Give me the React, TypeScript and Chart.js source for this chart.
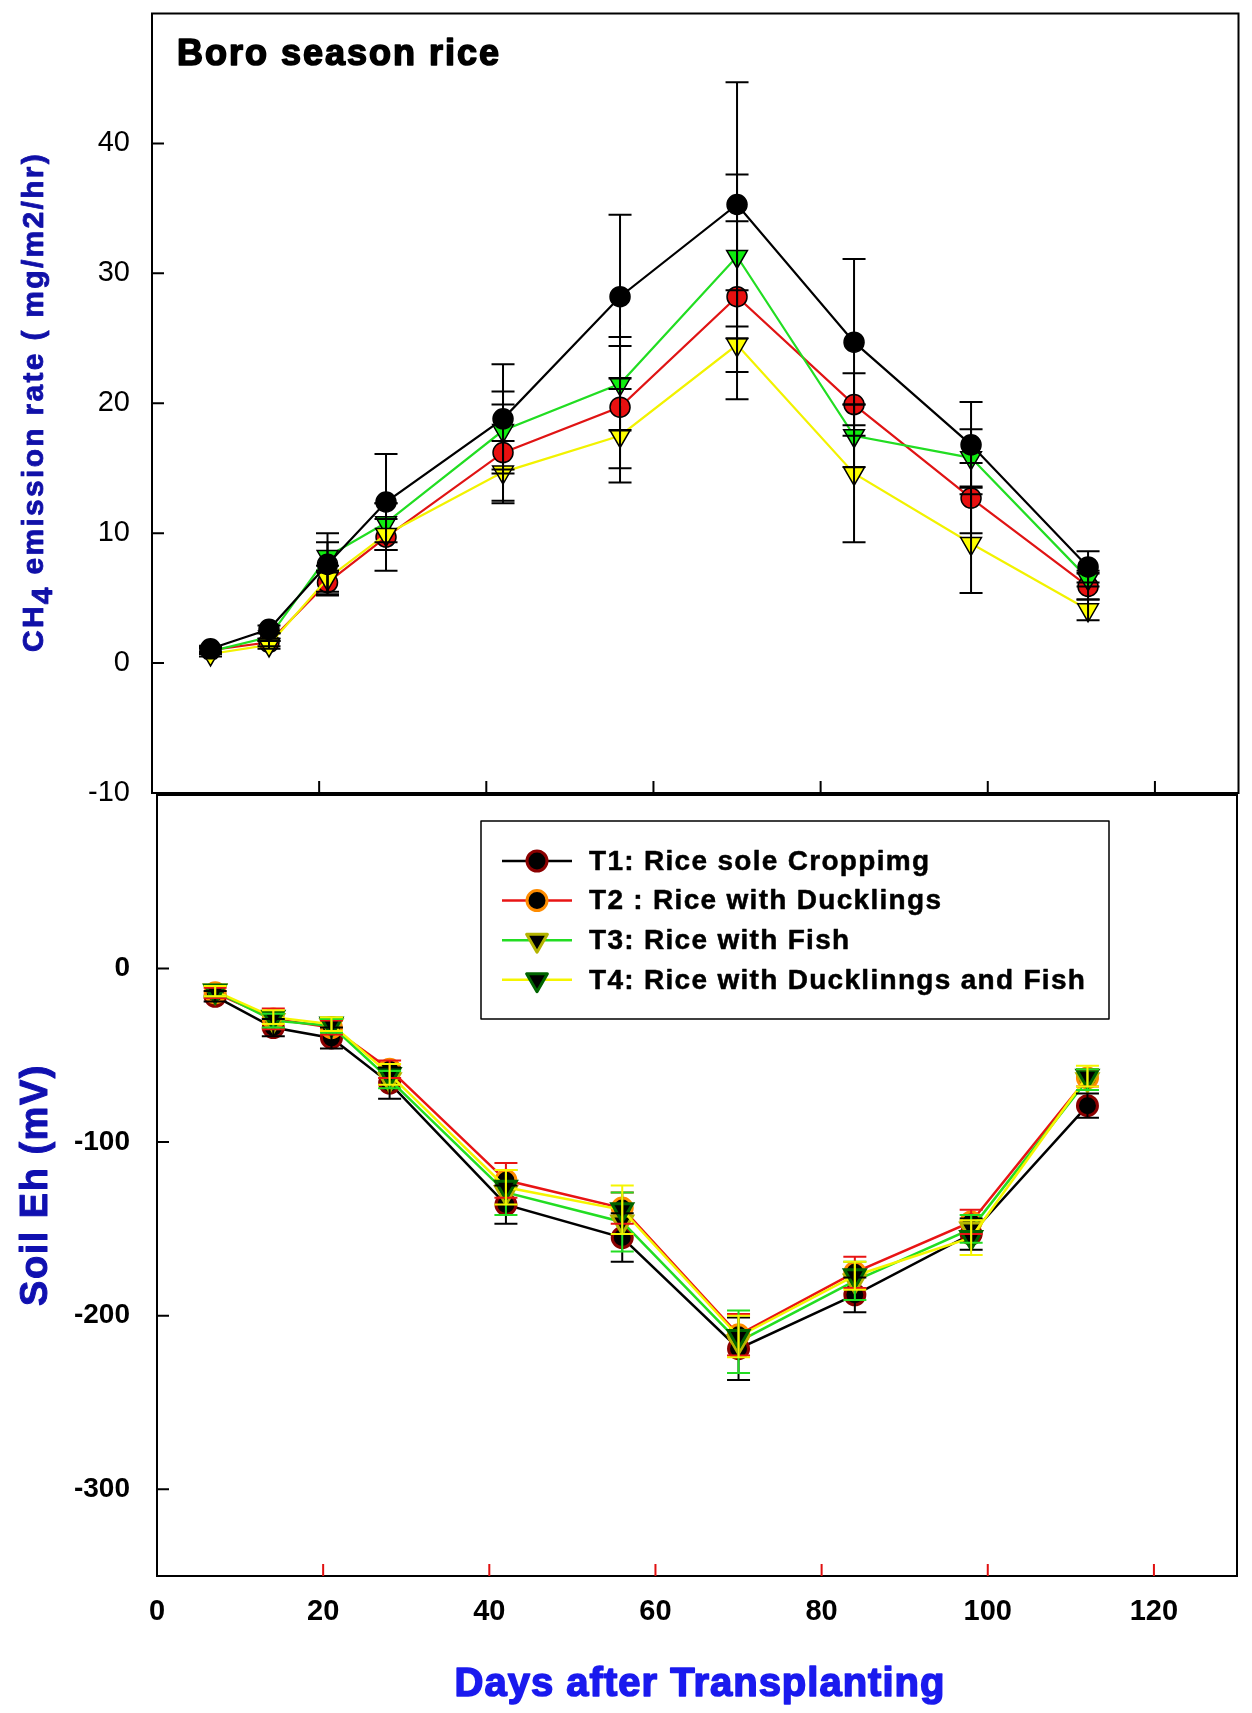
import React, { useEffect, useRef } from 'react';
import { Chart, registerables } from 'chart.js';
import { drawPoint } from 'chart.js/helpers';

Chart.register(...registerables);

const FONT = "'Liberation Sans', Arial, sans-serif";

// sampling days (days after transplanting)
const days = [7, 14, 21, 28, 42, 56, 70, 84, 98, 112];
const xTicks = [0, 20, 40, 60, 80, 100, 120];

// CH4 emission rate (mg/m2/hr), mean and error
const ch4T1 = [1.1, 2.6, 7.6, 12.4, 18.8, 28.2, 35.3, 24.7, 16.8, 7.4];
const ch4T2 = [1.0, 1.6, 6.2, 9.7, 16.2, 19.7, 28.2, 19.9, 12.7, 5.9];
const ch4T3 = [0.9, 2.0, 8.2, 10.8, 17.9, 21.5, 31.3, 17.5, 15.8, 6.5];
const ch4T4 = [0.7, 1.4, 6.5, 9.9, 14.7, 17.5, 24.5, 14.6, 9.2, 4.1];
const ch4ErrT1 = [0.2, 0.3, 2.4, 3.7, 4.2, 6.3, 9.4, 6.4, 3.3, 1.2];
const ch4ErrT2 = [0.2, 0.3, 0.9, 2.6, 3.7, 4.7, 5.8, 2.4, 2.7, 1.0];
const ch4ErrT3 = [0.2, 0.3, 1.1, 1.5, 3.0, 3.6, 6.3, 2.4, 2.2, 0.6];
const ch4ErrT4 = [0.2, 0.3, 1.0, 1.2, 2.4, 3.6, 4.2, 5.3, 3.8, 0.8];
const ch4Ticks = [-10, 0, 10, 20, 30, 40];

// soil Eh (mV), mean and error
const ehT1 = [-16, -34, -40, -66, -136, -155, -219, -188, -153, -79];
const ehT2 = [-14, -29, -34, -58, -122, -138, -211, -175, -146, -63];
const ehT3 = [-13, -30, -33, -64, -129, -146, -215, -180, -150, -64];
const ehT4 = [-13, -28, -32, -61, -126, -139, -212, -177, -155, -62];
const ehErrT1 = [3, 5, 6, 9, 11, 14, 18, 10, 9, 7];
const ehErrT2 = [3, 6, 4, 5, 10, 9, 12, 9, 7, 5];
const ehErrT3 = [3, 4, 4, 5, 13, 17, 18, 11, 8, 6];
const ehErrT4 = [3, 4, 4, 6, 10, 14, 12, 8, 10, 6];
const ehTicks = [-300, -200, -100, 0];

const legendLabels = [
  'T1: Rice sole Croppimg',
  'T2 : Rice with Ducklings',
  'T3: Rice with Fish',
  'T4: Rice with Ducklinngs and Fish',
];

const toPoints = (vals: number[]) => days.map((d, i) => ({ x: d, y: vals[i] }));

// heavier text: fill plus a thin stroke in the same colour
const heavyText = (ctx: CanvasRenderingContext2D, text: string, x: number, y: number, w: number) => {
  ctx.fillText(text, x, y);
  ctx.lineWidth = w;
  ctx.strokeStyle = ctx.fillStyle as string;
  ctx.lineJoin = 'round';
  ctx.strokeText(text, x, y);
};

// frame around the plot + inward tick marks
const makeFrame = (xTickColor: string) => ({
  id: 'frame',
  afterDatasetsDraw(chart: any) {
    const { ctx, chartArea: a } = chart;
    const xs = chart.scales.x;
    const ys = chart.scales.y;
    ctx.save();
    ctx.lineWidth = 2;
    ctx.strokeStyle = '#000';
    ctx.strokeRect(a.left, a.top, a.right - a.left, a.bottom - a.top);
    ctx.beginPath();
    ys.ticks.forEach((t: any) => {
      if (t.value <= ys.min || t.value >= ys.max) return;
      const y = ys.getPixelForValue(t.value);
      ctx.moveTo(a.left, y);
      ctx.lineTo(a.left + 12, y);
    });
    ctx.stroke();
    ctx.strokeStyle = xTickColor;
    ctx.beginPath();
    xs.ticks.forEach((t: any) => {
      if (t.value <= xs.min || t.value >= xs.max) return;
      const x = xs.getPixelForValue(t.value);
      ctx.moveTo(x, a.bottom);
      ctx.lineTo(x, a.bottom - 12);
    });
    ctx.stroke();
    ctx.restore();
  },
});

const errorBars = {
  id: 'errorBars',
  afterDatasetsDraw(chart: any) {
    const { ctx } = chart;
    const xs = chart.scales.x;
    const ys = chart.scales.y;
    chart.data.datasets.forEach((ds: any) => {
      const err: number[] = ds.errors;
      if (!err) return;
      ctx.save();
      ctx.strokeStyle = ds.errorColor;
      ctx.lineWidth = 2;
      ctx.beginPath();
      ds.data.forEach((p: any, i: number) => {
        const x = xs.getPixelForValue(p.x);
        const yTop = ys.getPixelForValue(p.y + err[i]);
        const yBot = ys.getPixelForValue(p.y - err[i]);
        ctx.moveTo(x, yTop);
        ctx.lineTo(x, yBot);
        ctx.moveTo(x - 11.5, yTop);
        ctx.lineTo(x + 11.5, yTop);
        ctx.moveTo(x - 11.5, yBot);
        ctx.lineTo(x + 11.5, yBot);
      });
      ctx.stroke();
      ctx.restore();
    });
  },
};

const topText = {
  id: 'topText',
  afterDraw(chart: any) {
    const { ctx } = chart;
    ctx.save();
    ctx.fillStyle = '#000';
    ctx.font = `bold 36px ${FONT}`;
    ctx.letterSpacing = '2px';
    ctx.textAlign = 'left';
    ctx.textBaseline = 'alphabetic';
    heavyText(ctx, 'Boro season rice', 177, 65, 1.6);

    // rotated y title with subscript
    ctx.translate(43, 402);
    ctx.rotate(-Math.PI / 2);
    ctx.fillStyle = '#1010a8';
    ctx.font = `bold 30px ${FONT}`;
    ctx.letterSpacing = '2.3px';
    const p1 = 'CH';
    const p2 = '4';
    const p3 = ' emission rate ( mg/m2/hr)';
    const w1 = ctx.measureText(p1).width;
    const w2 = ctx.measureText(p2).width;
    const w3 = ctx.measureText(p3).width;
    let x = -(w1 + w2 + w3) / 2;
    heavyText(ctx, p1, x, 0, 0.8);
    x += w1;
    heavyText(ctx, p2, x, 9, 0.8);
    x += w2;
    heavyText(ctx, p3, x, 0, 0.8);
    ctx.restore();
  },
};

const bottomText = {
  id: 'bottomText',
  afterDraw(chart: any) {
    const { ctx } = chart;
    ctx.save();
    // x title
    ctx.fillStyle = '#1a1aee';
    ctx.font = `bold 40px ${FONT}`;
    ctx.letterSpacing = '1px';
    ctx.textAlign = 'center';
    ctx.textBaseline = 'alphabetic';
    heavyText(ctx, 'Days after Transplanting', 700, 936, 1.6);

    // y title
    ctx.save();
    ctx.translate(47, 425);
    ctx.rotate(-Math.PI / 2);
    ctx.fillStyle = '#1010b0';
    ctx.font = `bold 38px ${FONT}`;
    ctx.letterSpacing = '1.5px';
    heavyText(ctx, 'Soil Eh (mV)', 0, 0, 1);
    ctx.restore();

    // legend box
    ctx.lineWidth = 1.5;
    ctx.strokeStyle = '#000';
    ctx.strokeRect(481, 61, 628, 198);
    ctx.letterSpacing = '1.3px';
    ctx.font = `bold 28px ${FONT}`;
    ctx.textAlign = 'left';
    ctx.textBaseline = 'middle';
    chart.data.datasets.forEach((ds: any, i: number) => {
      const y = 101 + i * 39.6;
      ctx.strokeStyle = ds.borderColor;
      ctx.lineWidth = 2.5;
      ctx.beginPath();
      ctx.moveTo(502, y);
      ctx.lineTo(572, y);
      ctx.stroke();
      ctx.fillStyle = ds.pointBackgroundColor;
      ctx.strokeStyle = ds.pointBorderColor;
      ctx.lineWidth = ds.pointBorderWidth;
      drawPoint(ctx, {
        pointStyle: ds.pointStyle,
        rotation: ds.pointRotation || 0,
        radius: ds.pointRadius,
        borderWidth: ds.pointBorderWidth,
      }, 537, y);
      ctx.fillStyle = '#000';
      heavyText(ctx, legendLabels[i], 589, y + 1, 0.5);
    });
    ctx.restore();
  },
};

const setTicks = (vals: number[]) => (s: any) => {
  s.ticks = vals.map((v) => ({ value: v }));
};

// fixed axis sizes, no extra label overflow padding
const fixWidth = (w: number) => (s: any) => {
  s.width = w;
  s.paddingTop = 0;
  s.paddingBottom = 0;
};
const fixHeight = (h: number) => (s: any) => {
  s.height = h;
  s.paddingLeft = 0;
  s.paddingRight = 0;
};

const App: React.FC = () => {
  const topRef = useRef<HTMLCanvasElement>(null);
  const bottomRef = useRef<HTMLCanvasElement>(null);

  useEffect(() => {
    if (!topRef.current || !bottomRef.current) return;

    const topSeries = [
      { vals: ch4T1, err: ch4ErrT1, line: '#000000', bg: '#000000', style: 'circle', r: 10, order: 0 },
      { vals: ch4T2, err: ch4ErrT2, line: '#e01414', bg: '#e81010', style: 'circle', r: 10, order: 3 },
      { vals: ch4T3, err: ch4ErrT3, line: '#22dd22', bg: '#10ee10', style: 'triangle', r: 12, order: 2 },
      { vals: ch4T4, err: ch4ErrT4, line: '#f2f200', bg: '#ffff00', style: 'triangle', r: 12, order: 1 },
    ];

    const topChart = new Chart(topRef.current, {
      type: 'line',
      data: {
        datasets: topSeries.map((s, i) => ({
          label: `T${i + 1}`,
          data: toPoints(s.vals),
          borderColor: s.line,
          borderWidth: 2.2,
          pointStyle: s.style,
          pointRotation: s.style === 'triangle' ? 180 : 0,
          pointRadius: s.r,
          pointBackgroundColor: s.bg,
          pointBorderColor: '#000',
          pointBorderWidth: 1.5,
          order: s.order,
          errors: s.err,
          errorColor: '#000',
        })) as any,
      },
      options: {
        responsive: false,
        animation: false,
        events: [],
        layout: { padding: { left: 0, top: 10, right: 9, bottom: 0 } },
        plugins: { legend: { display: false }, tooltip: { enabled: false } },
        scales: {
          x: {
            type: 'linear',
            min: 0,
            max: 130,
            afterBuildTicks: setTicks(xTicks),
            ticks: { display: false },
            grid: { display: false },
            border: { display: false },
            afterFit: fixHeight(27),
          },
          y: {
            type: 'linear',
            min: -10,
            max: 50,
            afterBuildTicks: setTicks(ch4Ticks),
            ticks: { padding: 14, color: '#000', font: { family: FONT, size: 29, weight: 'normal' } },
            grid: { display: false },
            border: { display: false },
            afterFit: fixWidth(152),
          },
        },
      },
      plugins: [makeFrame('#000'), errorBars, topText],
    });

    const bottomSeries = [
      { vals: ehT1, err: ehErrT1, line: '#000000', bg: '#000000', edge: '#8b0000', style: 'circle', r: 10, order: 3 },
      { vals: ehT2, err: ehErrT2, line: '#e81414', bg: '#000000', edge: '#ff8c00', style: 'circle', r: 10, order: 2 },
      { vals: ehT3, err: ehErrT3, line: '#22dd22', bg: '#000000', edge: '#b4b400', style: 'triangle', r: 12, order: 1 },
      { vals: ehT4, err: ehErrT4, line: '#f5f500', bg: '#000000', edge: '#006400', style: 'triangle', r: 12, order: 0 },
    ];
    const errColors = ['#000000', '#e81414', '#22dd22', '#f5f500'];

    const bottomChart = new Chart(bottomRef.current, {
      type: 'line',
      data: {
        datasets: bottomSeries.map((s, i) => ({
          label: `T${i + 1}`,
          data: toPoints(s.vals),
          borderColor: s.line,
          borderWidth: 2.5,
          pointStyle: s.style,
          pointRotation: s.style === 'triangle' ? 180 : 0,
          pointRadius: s.r,
          pointBackgroundColor: s.bg,
          pointBorderColor: s.edge,
          pointBorderWidth: 3,
          order: s.order,
          errors: s.err,
          errorColor: errColors[i],
        })) as any,
      },
      options: {
        responsive: false,
        animation: false,
        events: [],
        layout: { padding: { left: 0, top: 35, right: 6, bottom: 0 } },
        plugins: { legend: { display: false }, tooltip: { enabled: false } },
        scales: {
          x: {
            type: 'linear',
            min: 0,
            max: 130,
            afterBuildTicks: setTicks(xTicks),
            ticks: { padding: 11, color: '#000', font: { family: FONT, size: 29, weight: 'bold' } },
            grid: { display: false },
            border: { display: false },
            afterFit: fixHeight(137),
          },
          y: {
            type: 'linear',
            min: -350,
            max: 100,
            afterBuildTicks: setTicks(ehTicks),
            ticks: { padding: 19, color: '#000', font: { family: FONT, size: 28, weight: 'bold' } },
            grid: { display: false },
            border: { display: false },
            afterFit: fixWidth(157),
          },
        },
      },
      plugins: [makeFrame('#e01010'), errorBars, bottomText],
    });

    return () => {
      topChart.destroy();
      bottomChart.destroy();
    };
  }, []);

  return (
    <div style={{ position: 'absolute', left: 0, top: 0, width: 1252, height: 1713, background: '#fff' }}>
      <canvas ref={topRef} width={1252} height={820}
        style={{ position: 'absolute', left: 0, top: 0, width: 1252, height: 820 }} />
      <canvas ref={bottomRef} width={1252} height={953}
        style={{ position: 'absolute', left: 0, top: 760, width: 1252, height: 953 }} />
    </div>
  );
};

export default App;
